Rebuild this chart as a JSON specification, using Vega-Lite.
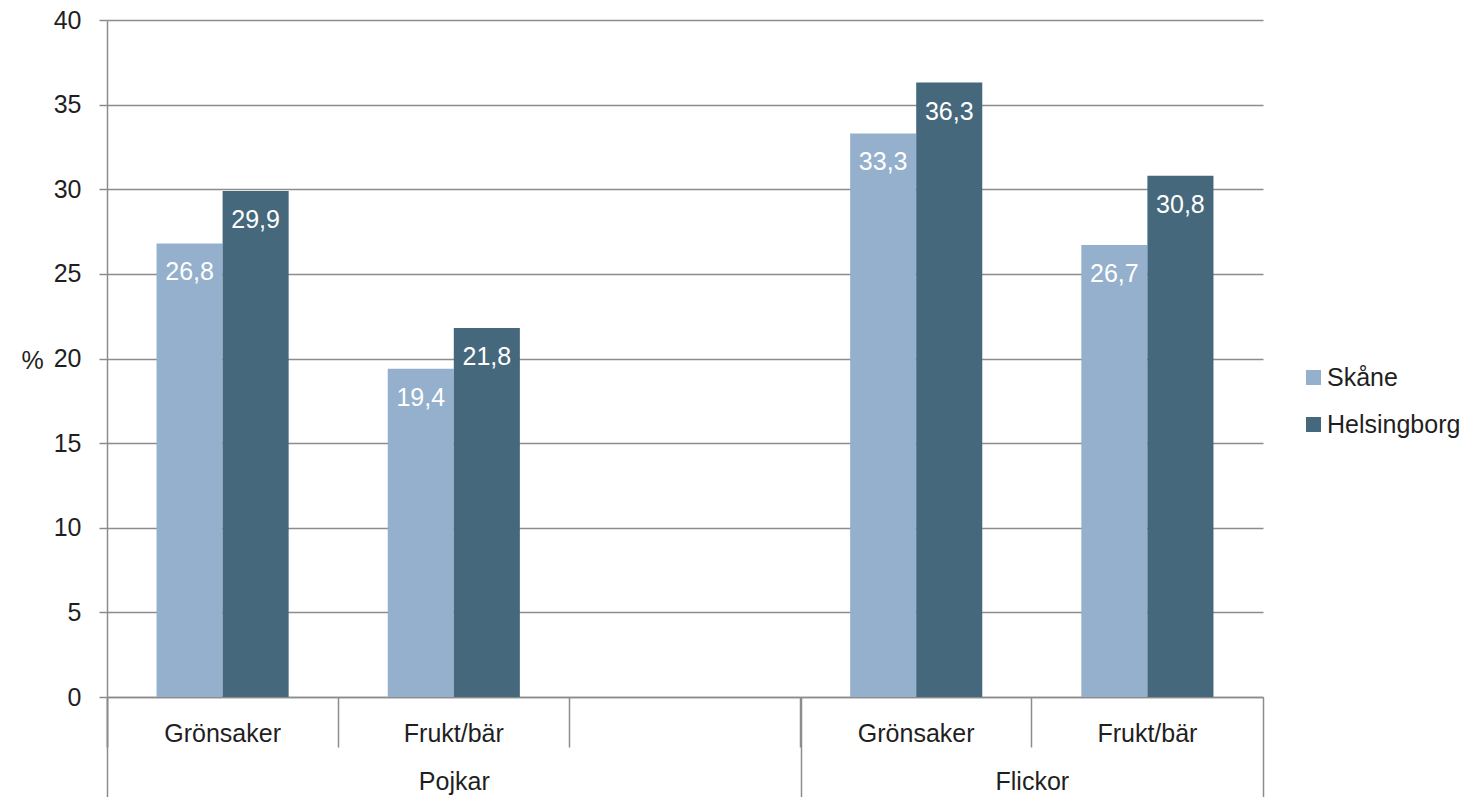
{
  "$schema": "https://vega.github.io/schema/vega-lite/v6.json",
  "width": 1156,
  "height": 677,
  "autosize": {"type": "none"},
  "padding": {"left": 107, "top": 20, "right": 209, "bottom": 100},
  "config": {
    "font": "Liberation Sans",
    "locale": {"number": {"decimal": ",", "thousands": " ", "grouping": [3], "currency": ["", " kr"]}},
    "view": {"stroke": null},
    "axis": {
      "labelFont": "Liberation Sans",
      "labelFontSize": 25,
      "labelColor": "#1f1f1f",
      "domainColor": "#8c8c8c",
      "tickColor": "#8c8c8c",
      "gridColor": "#8c8c8c",
      "domainWidth": 1.5,
      "tickWidth": 1.5,
      "gridWidth": 1.5
    }
  },
  "datasets": {
    "vals": [
      {"slot": "Pojkar|Grönsaker", "series": "Skåne", "value": 26.8},
      {"slot": "Pojkar|Grönsaker", "series": "Helsingborg", "value": 29.9},
      {"slot": "Pojkar|Frukt/bär", "series": "Skåne", "value": 19.4},
      {"slot": "Pojkar|Frukt/bär", "series": "Helsingborg", "value": 21.8},
      {"slot": "Flickor|Grönsaker", "series": "Skåne", "value": 33.3},
      {"slot": "Flickor|Grönsaker", "series": "Helsingborg", "value": 36.3},
      {"slot": "Flickor|Frukt/bär", "series": "Skåne", "value": 26.7},
      {"slot": "Flickor|Frukt/bär", "series": "Helsingborg", "value": 30.8}
    ],
    "dividers": [{"pos": 0}, {"pos": 3}, {"pos": 5}],
    "groups": [{"pos": 1.5, "name": "Pojkar"}, {"pos": 4, "name": "Flickor"}]
  },
  "layer": [
    {
      "data": {"name": "vals"},
      "encoding": {
        "x": {
          "field": "slot",
          "type": "nominal",
          "scale": {
            "domain": ["Pojkar|Grönsaker", "Pojkar|Frukt/bär", "Pojkar|", "Flickor|Grönsaker", "Flickor|Frukt/bär"],
            "paddingInner": 0,
            "paddingOuter": 0
          },
          "axis": {
            "orient": "bottom",
            "title": null,
            "labelExpr": "split(datum.value, '|')[1]",
            "bandPosition": 0,
            "tickExtra": true,
            "tickSize": 50,
            "labelPadding": -14,
            "labelBaseline": "middle",
            "labelAngle": 0,
            "grid": false
          }
        },
        "xOffset": {
          "field": "series",
          "type": "nominal",
          "scale": {"domain": ["Skåne", "Helsingborg"], "paddingInner": 0, "paddingOuter": 0.75}
        },
        "y": {
          "field": "value",
          "type": "quantitative",
          "scale": {"domain": [0, 40], "nice": false},
          "axis": {
            "values": [0, 5, 10, 15, 20, 25, 30, 35, 40],
            "title": "%",
            "titleAngle": 0,
            "titleX": -75,
            "titleY": 340,
            "titleAlign": "center",
            "titleBaseline": "middle",
            "titleFontSize": 25,
            "titleFontWeight": "normal",
            "titleColor": "#1f1f1f",
            "tickSize": 8,
            "labelPadding": 18,
            "grid": true
          }
        }
      },
      "layer": [
        {
          "mark": {"type": "bar"},
          "encoding": {
            "color": {
              "field": "series",
              "type": "nominal",
              "scale": {"domain": ["Skåne", "Helsingborg"], "range": ["#94b0cc", "#45687c"]},
              "legend": {
                "orient": "none",
                "legendX": 1194,
                "legendY": 345,
                "title": null,
                "symbolType": "square",
                "symbolSize": 225,
                "symbolStrokeWidth": 0,
                "symbolOpacity": 1,
                "labelFontSize": 25,
                "labelColor": "#1f1f1f",
                "labelOffset": 1,
                "rowPadding": 21
              }
            }
          }
        },
        {
          "mark": {"type": "text", "color": "white", "baseline": "middle", "dy": 29, "fontSize": 25},
          "encoding": {
            "text": {"field": "value", "type": "quantitative", "format": ".1f"}
          }
        }
      ]
    },
    {
      "data": {"name": "dividers"},
      "mark": {"type": "rule", "opacity": 0},
      "encoding": {
        "x": {
          "field": "pos",
          "type": "quantitative",
          "scale": {"domain": [0, 5], "nice": false, "zero": false},
          "axis": {
            "orient": "bottom",
            "values": [0, 3, 5],
            "labels": false,
            "tickSize": 100,
            "domain": false,
            "grid": false,
            "title": null
          }
        }
      }
    },
    {
      "data": {"name": "groups"},
      "mark": {"type": "rule", "opacity": 0},
      "encoding": {
        "x": {
          "field": "pos",
          "type": "quantitative",
          "scale": {"domain": [0, 5], "nice": false, "zero": false},
          "axis": {
            "orient": "bottom",
            "values": [1.5, 4],
            "ticks": false,
            "tickSize": 0,
            "domain": false,
            "grid": false,
            "labelExpr": "datum.value == 1.5 ? 'Pojkar' : 'Flickor'",
            "labelPadding": 84,
            "labelBaseline": "middle",
            "title": null
          }
        }
      }
    }
  ],
  "resolve": {"scale": {"x": "independent"}, "axis": {"x": "independent"}}
}
